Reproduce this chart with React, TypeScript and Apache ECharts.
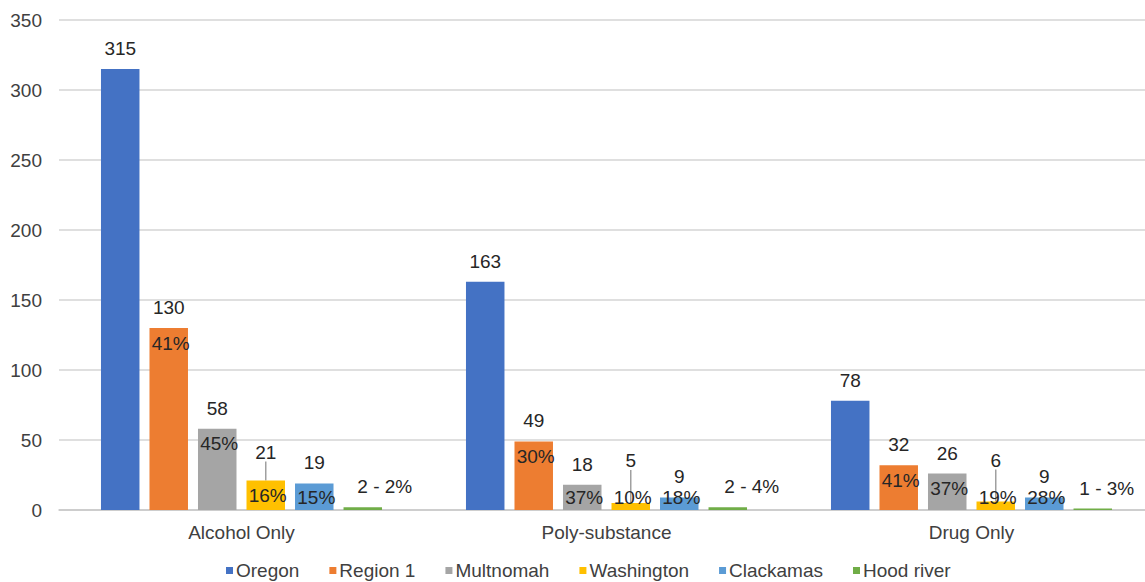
import React, { useEffect, useRef } from "react";
import * as echarts from "echarts";

const CATEGORIES = ["Alcohol Only", "Poly-substance", "Drug Only"];
const SERIES_NAMES = ["Oregon", "Region 1", "Multnomah", "Washington", "Clackamas", "Hood river"];
const OREGON = [315, 163, 78];
const REGION1 = [130, 49, 32];
const MULTNOMAH = [58, 18, 26];
const WASHINGTON = [21, 5, 6];
const CLACKAMAS = [19, 9, 9];
const HOOD_RIVER = [2, 2, 1];
const REGION1_PCT = [41, 30, 41];
const MULTNOMAH_PCT = [45, 37, 37];
const WASHINGTON_PCT = [16, 10, 19];
const CLACKAMAS_PCT = [15, 18, 28];
const HOOD_RIVER_PCT = [2, 4, 3];
const Y_TICKS = [0, 50, 100, 150, 200, 250, 300, 350];

const COLORS = ["#4472C4", "#ED7D31", "#A5A5A5", "#FFC000", "#5B9BD5", "#70AD47"];
const FONT = "'Liberation Sans', Arial, sans-serif";
const TEXT = "#404040";
const FS = 19;

export default function App() {
  const ref = useRef<HTMLDivElement>(null);
  useEffect(() => {
    if (!ref.current) return;
    const chart = echarts.init(ref.current, undefined, { renderer: "svg" });

    const values = [OREGON, REGION1, MULTNOMAH, WASHINGTON, CLACKAMAS, HOOD_RIVER];
    const pcts: (number[] | null)[] = [null, REGION1_PCT, MULTNOMAH_PCT, WASHINGTON_PCT, CLACKAMAS_PCT, null];
    const washRaise = [8, 22, 21];
    const hoodShift = [22, 24, 14];

    const series = values.map((vals, si) => {
      const pct = pcts[si];
      const isHood = si === 5;
      const isWash = si === 3;
      const s: any = {
        name: SERIES_NAMES[si],
        type: "bar",
        barWidth: 38.5,
        barGap: "26%",
        itemStyle: { color: COLORS[si] },
        data: vals.map((v, ci) => {
          const item: any = { value: v };
          if (isHood) {
            item.label = { offset: [hoodShift[ci], 0] };
          }
          return item;
        }),
        label: {
          show: true,
          position: "top",
          distance: 11,
          fontFamily: FONT,
          fontSize: FS,
          color: "#262626",
          formatter: (p: any) =>
            isHood ? `${p.value} - ${HOOD_RIVER_PCT[p.dataIndex]}%` : `${p.value}`,
        },
      };
      if (isWash) {
        s.labelLayout = (params: any) => ({ dy: -washRaise[params.dataIndex] });
        s.labelLine = { show: true, lineStyle: { color: "#a0a0a0", width: 1.5 } };
      }
      if (pct) {
        s.markPoint = {
          symbol: "circle",
          symbolSize: 1,
          itemStyle: { color: "transparent" },
          silent: true,
          label: {
            show: true,
            position: "inside",
            offset: [2, 15],
            fontFamily: FONT,
            fontSize: FS,
            color: "#262626",
          },
          data: vals.map((v, ci) => ({
            coord: [ci, Math.max(v, 20)],
            value: pct[ci],
            label: { formatter: `${pct[ci]}%` },
          })),
        };
      }
      return s;
    });

    chart.setOption({
      animation: false,
      textStyle: { fontFamily: FONT },
      grid: { left: 59, width: 1095, top: 20, bottom: 72, containLabel: false, outerBoundsMode: "none" },
      legend: {
        top: 556,
        left: 221,
        itemWidth: 7,
        itemHeight: 7,
        itemGap: 30,
        icon: "rect",
        textStyle: { fontFamily: FONT, fontSize: FS, color: TEXT, padding: [0, 0, 0, -2] },
        data: SERIES_NAMES,
      },
      xAxis: {
        type: "category",
        data: CATEGORIES,
        axisTick: { show: false },
        axisLine: { lineStyle: { color: "#c8c8c8", width: 1.5 } },
        axisLabel: { fontFamily: FONT, fontSize: FS, color: TEXT, margin: 13 },
      },
      yAxis: {
        type: "value",
        min: Y_TICKS[0],
        max: Y_TICKS[Y_TICKS.length - 1],
        interval: Y_TICKS[1] - Y_TICKS[0],
        axisLine: { show: false },
        axisTick: { show: false },
        axisLabel: { fontFamily: FONT, fontSize: FS, color: TEXT, margin: 17 },
        splitLine: { lineStyle: { color: "#d4d4d4", width: 1.5 } },
      },
      series,
    });
    return () => chart.dispose();
  }, []);
  return (
    <div
      ref={ref}
      style={{ position: "fixed", left: 0, top: 0, width: 1145, height: 582, background: "#fff", overflow: "hidden" }}
    />
  );
}
